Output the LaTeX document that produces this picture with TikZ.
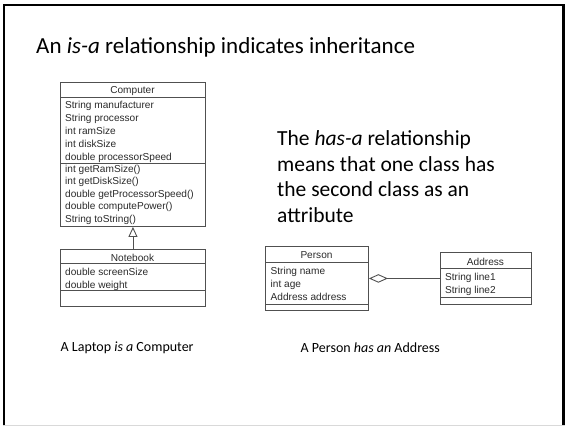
\documentclass[tikz,border=0pt]{standalone}
\usepackage{fontspec}
\setmainfont{Carlito}
\newfontfamily\umlfont{Liberation Sans}
\usetikzlibrary{arrows.meta}
\definecolor{umlline}{HTML}{505050}
\definecolor{umltxt}{HTML}{2A2A2A}
\begin{document}
\begin{tikzpicture}[x=1pt,y=-1pt,
  umlbox/.style={draw=umlline, line width=0.9pt, inner sep=0pt, anchor=north west},
  umlsep/.style={draw=umlline, line width=0.9pt},
  umltext/.style={font=\umlfont\fontsize{10.1}{12}\selectfont, text=umltxt, inner sep=0pt, anchor=base west},
  umlname/.style={font=\umlfont\fontsize{10.1}{12}\selectfont, text=umltxt, inner sep=0pt, anchor=base},
  slidetext/.style={inner sep=0pt, anchor=base west, text=black},
  hasatext/.style={slidetext, font=\fontsize{21.5}{25}\selectfont},
  captext/.style={slidetext, font=\fontsize{14}{17}\selectfont},
  umlconn/.style={draw=umlline, line width=0.9pt}]
\useasboundingbox (0,0) rectangle (565,426);
% slide frame
\draw[line width=2.7pt] (4,426) -- (4,5) -- (563.8,5) -- (563.8,426);
\draw[black!15, line width=1pt] (3,425.5) -- (565,425.5);

% title
\node[slidetext, font=\fontsize{23}{28}\selectfont] (title) at (36,53)
  {An \textit{is-a} relationship indicates inheritance};

% Computer class
\node[umlbox, minimum width=145pt, minimum height=144pt] (computer) at (60,82) {};
\draw[umlsep] ([yshift=-15pt]computer.north west) -- ([yshift=-15pt]computer.north east);
\draw[umlsep] ([yshift=-81pt]computer.north west) -- ([yshift=-81pt]computer.north east);
\node[umlname] (cname) at (132.5,93) {Computer};
\node[umltext] (ca1) at (65,108) {String manufacturer};
\node[umltext] (ca2) at (65,121) {String processor};
\node[umltext] (ca3) at (65,134) {int ramSize};
\node[umltext] (ca4) at (65,147) {int diskSize};
\node[umltext] (ca5) at (65,160) {double processorSpeed};
\node[umltext] (cm1) at (65,172) {int getRamSize()};
\node[umltext] (cm2) at (65,184.5) {int getDiskSize()};
\node[umltext] (cm3) at (65,197) {double getProcessorSpeed()};
\node[umltext] (cm4) at (65,209.5) {double computePower()};
\node[umltext] (cm5) at (65,222) {String toString()};

% Notebook class
\node[umlbox, minimum width=145pt, minimum height=57pt] (notebook) at (60,249) {};
\draw[umlsep] ([yshift=-14pt]notebook.north west) -- ([yshift=-14pt]notebook.north east);
\draw[umlsep] ([yshift=-41pt]notebook.north west) -- ([yshift=-41pt]notebook.north east);
\node[umlname] (nname) at (132.5,261) {Notebook};
\node[umltext] (na1) at (65,275.3) {double screenSize};
\node[umltext] (na2) at (65,288) {double weight};

\draw[umlconn, -{Triangle[open, length=10pt, width=9pt]}] (notebook.north) -- (computer.south);

% has-a text
\node[hasatext] (h1) at (277,145.5) {The \textit{has-a} relationship};
\node[hasatext] (h2) at (277,171) {means that one class has};
\node[hasatext] (h3) at (277,196.5) {the second class as an};
\node[hasatext] (h4) at (277,222) {attribute};

% Person class
\node[umlbox, minimum width=103pt, minimum height=64pt] (person) at (265,246) {};
\draw[umlsep] ([yshift=-16pt]person.north west) -- ([yshift=-16pt]person.north east);
\draw[umlsep] ([yshift=-58pt]person.north west) -- ([yshift=-58pt]person.north east);
\node[umlname] (pname) at (316.5,258.6) {Person};
\node[umltext] (pa1) at (270.5,274.6) {String name};
\node[umltext] (pa2) at (270.5,287.6) {int age};
\node[umltext] (pa3) at (270.5,300.3) {Address address};

% Address class
\node[umlbox, minimum width=91pt, minimum height=52pt] (address) at (440,252) {};
\draw[umlsep] ([yshift=-16pt]address.north west) -- ([yshift=-16pt]address.north east);
\draw[umlsep] ([yshift=-45pt]address.north west) -- ([yshift=-45pt]address.north east);
\node[umlname] (aname) at (485.5,265.3) {Address};
\node[umltext] (aa1) at (445,280.9) {String line1};
\node[umltext] (aa2) at (445,293.6) {String line2};

\draw[umlconn, {Diamond[open, length=19pt, width=8.5pt]}-] (person.east) -- (person.east -| address.west);

% captions
\node[captext] (cap1) at (60.5,351) {A Laptop \textit{is a} Computer};
\node[captext] (cap2) at (300.5,352) {A Person \textit{has an} Address};
\end{tikzpicture}
\end{document}
